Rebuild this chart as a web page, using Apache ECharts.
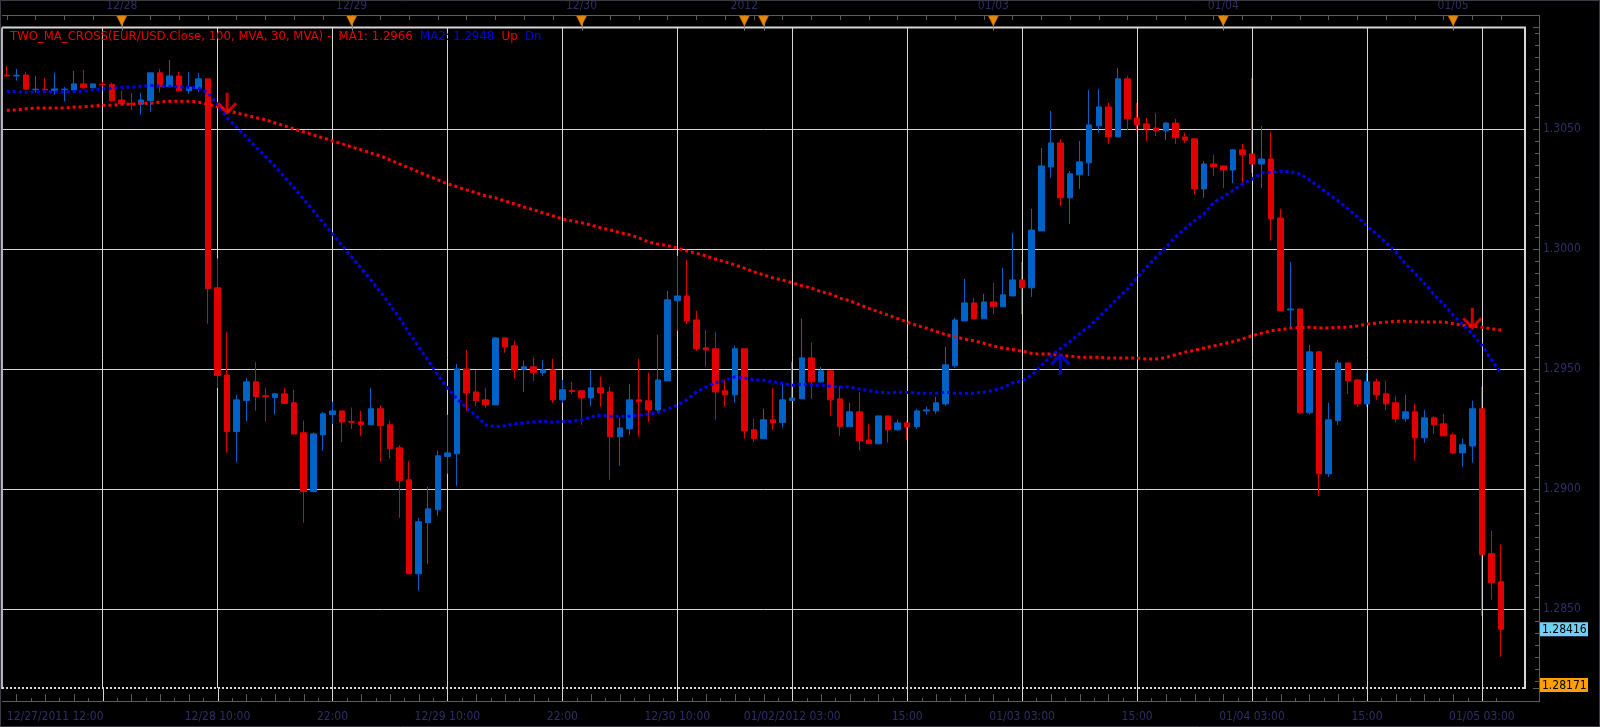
<!DOCTYPE html>
<html>
<head>
<meta charset="UTF-8">
<script src="https://cdn.jsdelivr.net/npm/echarts@6/dist/echarts.min.js"></script>
<style>
    html, body { margin: 0; padding: 0; background: #000; }
    #main { width: 1600px; height: 727px; }
</style>
</head>
<body>
<div id="main"></div>
<script>
    // hourly candles, two sessions (weekend / new year gap in between)
    function hourly(y, m, d, h, n) {
        var out = [];
        function p(v) { return v < 10 ? '0' + v : '' + v; }
        for (var k = 0; k < n; k++) {
            var t = new Date(Date.UTC(y, m - 1, d, h + k));
            out.push(p(t.getUTCMonth() + 1) + '/' + p(t.getUTCDate()) + '/' + t.getUTCFullYear() + ' ' + p(t.getUTCHours()) + ':00');
        }
        return out;
    }
    var categories = hourly(2011, 12, 27, 12, 77).concat(hourly(2012, 1, 1, 22, 80));
    var padCategories = ['', ''];   // empty space at right edge of plot

    var open = [
        1.30725,1.30722,1.30726,1.30665,1.30667,1.30661,1.30665,1.30664,1.30689,1.30673,
        1.30687,1.30686,1.30622,1.30607,1.30604,1.30619,1.30735,1.30678,1.30722,1.30661,
        1.30669,1.30710,1.29839,1.29476,1.29240,1.29369,1.29447,1.29389,1.29382,1.29397,
        1.29360,1.29235,1.28990,1.29226,1.29311,1.29326,1.29282,1.29280,1.29268,1.29335,
        1.29268,1.29172,1.29039,1.28647,1.28860,1.28914,1.29136,1.29147,1.29501,1.29405,
        1.29372,1.29351,1.29630,1.29597,1.29500,1.29510,1.29485,1.29497,1.29372,1.29412,
        1.29410,1.29380,1.29422,1.29405,1.29218,1.29251,1.29372,1.29368,1.29330,1.29451,
        1.29785,1.29805,1.29705,1.29589,1.29585,1.29410,1.29393,1.29585,1.29247,1.29210,
        1.29289,1.29278,1.29369,1.29376,1.29547,1.29447,1.29493,1.29376,1.29260,1.29322,
        1.29205,1.29189,1.29305,1.29247,1.29276,1.29260,1.29326,1.29326,1.29355,1.29514,
        1.29701,1.29776,1.29710,1.29780,1.29760,1.29805,1.29872,1.29839,1.30076,1.30343,
        1.30443,1.30214,1.30310,1.30360,1.30514,1.30593,1.30468,1.30710,1.30547,1.30522,
        1.30505,1.30493,1.30526,1.30468,1.30460,1.30251,1.30355,1.30347,1.30330,1.30414,
        1.30397,1.30355,1.30376,1.30130,1.29747,1.29751,1.29318,1.29572,1.29064,1.29285,
        1.29526,1.29455,1.29355,1.29447,1.29397,1.29360,1.29293,1.29322,1.29214,1.29297,
        1.29272,1.29226,1.29151,1.29180,1.29335,1.28731,1.28614
    ];
    var close = [
        1.30722,1.30725,1.30667,1.30667,1.30664,1.30668,1.30667,1.30689,1.30673,1.30689,
        1.30685,1.30619,1.30607,1.30604,1.30622,1.30735,1.30679,1.30722,1.30660,1.30676,
        1.30710,1.29836,1.29473,1.29240,1.29372,1.29447,1.29386,1.29385,1.29397,1.29357,
        1.29230,1.28990,1.29230,1.29314,1.29326,1.29280,1.29279,1.29268,1.29335,1.29264,
        1.29168,1.29035,1.28647,1.28864,1.28918,1.29139,1.29151,1.29501,1.29401,1.29368,
        1.29351,1.29630,1.29593,1.29497,1.29510,1.29485,1.29497,1.29372,1.29414,1.29407,
        1.29380,1.29422,1.29401,1.29218,1.29255,1.29372,1.29364,1.29330,1.29455,1.29789,
        1.29805,1.29701,1.29585,1.29580,1.29405,1.29393,1.29585,1.29243,1.29210,1.29289,
        1.29276,1.29372,1.29380,1.29547,1.29447,1.29493,1.29372,1.29260,1.29322,1.29201,
        1.29189,1.29305,1.29247,1.29276,1.29260,1.29326,1.29330,1.29360,1.29518,1.29705,
        1.29776,1.29710,1.29780,1.29760,1.29810,1.29872,1.29839,1.30080,1.30347,1.30443,
        1.30214,1.30314,1.30364,1.30518,1.30593,1.30468,1.30710,1.30543,1.30518,1.30501,
        1.30493,1.30526,1.30464,1.30455,1.30251,1.30355,1.30343,1.30330,1.30414,1.30393,
        1.30355,1.30376,1.30126,1.29743,1.29751,1.29318,1.29572,1.29064,1.29289,1.29526,
        1.29451,1.29355,1.29447,1.29393,1.29355,1.29293,1.29322,1.29214,1.29297,1.29268,
        1.29222,1.29151,1.29185,1.29335,1.28726,1.28610,1.28416
    ];
    var low = [
        1.30719,1.30703,1.30664,1.30653,1.30658,1.30644,1.30615,1.30661,1.30669,1.30671,
        1.30678,1.30615,1.30604,1.30580,1.30561,1.30572,1.30653,1.30675,1.30660,1.30648,
        1.30655,1.29689,1.29422,1.29152,1.29111,1.29282,1.29327,1.29282,1.29310,1.29357,
        1.29226,1.28860,1.28986,1.29160,1.29272,1.29197,1.29251,1.29222,1.29268,1.29114,
        1.29126,1.28880,1.28647,1.28576,1.28689,1.28889,1.29064,1.29014,1.29326,1.29347,
        1.29339,1.29351,1.29568,1.29460,1.29405,1.29451,1.29472,1.29360,1.29360,1.29397,
        1.29268,1.29347,1.29343,1.29039,1.29097,1.29226,1.29218,1.29280,1.29318,1.29451,
        1.29660,1.29689,1.29576,1.29510,1.29289,1.29343,1.29360,1.29210,1.29197,1.29210,
        1.29247,1.29257,1.29369,1.29376,1.29376,1.29443,1.29305,1.29222,1.29260,1.29160,
        1.29189,1.29189,1.29193,1.29243,1.29205,1.29251,1.29310,1.29314,1.29347,1.29506,
        1.29701,1.29710,1.29710,1.29730,1.29760,1.29805,1.29730,1.29801,1.30076,1.30297,
        1.30180,1.30105,1.30251,1.30305,1.30485,1.30439,1.30468,1.30497,1.30493,1.30451,
        1.30472,1.30455,1.30439,1.30443,1.30230,1.30214,1.30305,1.30255,1.30276,1.30268,
        1.30318,1.30255,1.30035,1.29743,1.29668,1.29314,1.29310,1.28972,1.29051,1.29268,
        1.29397,1.29343,1.29343,1.29372,1.29330,1.29280,1.29280,1.29118,1.29193,1.29230,
        1.29222,1.29147,1.29093,1.29110,1.28472,1.28539,1.28301
    ];
    var high = [
        1.30764,1.30751,1.30740,1.30722,1.30714,1.30735,1.30676,1.30743,1.30747,1.30689,
        1.30697,1.30694,1.30660,1.30651,1.30651,1.30735,1.30751,1.30789,1.30739,1.30739,
        1.30735,1.30710,1.29961,1.29655,1.29393,1.29464,1.29530,1.29422,1.29400,1.29422,
        1.29414,1.29285,1.29237,1.29322,1.29364,1.29326,1.29340,1.29326,1.29422,1.29350,
        1.29285,1.29183,1.29117,1.28880,1.29010,1.29160,1.29310,1.29522,1.29580,1.29497,
        1.29422,1.29634,1.29630,1.29618,1.29535,1.29551,1.29539,1.29543,1.29455,1.29447,
        1.29410,1.29497,1.29468,1.29426,1.29297,1.29439,1.29543,1.29485,1.29643,1.29826,
        1.29972,1.29955,1.29743,1.29664,1.29655,1.29455,1.29597,1.29585,1.29293,1.29335,
        1.29422,1.29442,1.29530,1.29710,1.29610,1.29510,1.29493,1.29430,1.29360,1.29405,
        1.29272,1.29305,1.29305,1.29289,1.29285,1.29335,1.29343,1.29385,1.29593,1.29714,
        1.29876,1.29797,1.29814,1.29860,1.29922,1.30068,1.29947,1.30168,1.30422,1.30576,
        1.30459,1.30326,1.30451,1.30664,1.30668,1.30610,1.30755,1.30722,1.30610,1.30547,
        1.30568,1.30530,1.30543,1.30485,1.30464,1.30368,1.30393,1.30347,1.30418,1.30439,
        1.30714,1.30514,1.30489,1.30168,1.29947,1.29751,1.29601,1.29576,1.29360,1.29539,
        1.29526,1.29460,1.29485,1.29460,1.29451,1.29389,1.29393,1.29355,1.29330,1.29305,
        1.29314,1.29235,1.29210,1.29368,1.29426,1.28826,1.28768
    ];
    // MA1 = 100 period, MA2 = 30 period
    var ma1 = [
        1.30579,1.30580,1.30585,1.30588,1.30588,1.30588,1.30588,1.30592,1.30593,1.30597,
        1.30600,1.30600,1.30604,1.30604,1.30608,1.30608,1.30613,1.30617,1.30617,1.30617,
        1.30613,1.30604,1.30594,1.30578,1.30568,1.30558,1.30548,1.30540,1.30526,1.30514,
        1.30501,1.30489,1.30476,1.30464,1.30451,1.30439,1.30426,1.30414,1.30401,1.30389,
        1.30372,1.30355,1.30339,1.30322,1.30305,1.30289,1.30272,1.30260,1.30247,1.30235,
        1.30222,1.30214,1.30201,1.30189,1.30176,1.30164,1.30151,1.30139,1.30126,1.30118,
        1.30110,1.30101,1.30089,1.30080,1.30069,1.30060,1.30047,1.30030,1.30021,1.30014,
        1.30005,1.29992,1.29983,1.29972,1.29958,1.29947,1.29935,1.29921,1.29905,1.29893,
        1.29880,1.29871,1.29860,1.29848,1.29838,1.29823,1.29813,1.29796,1.29785,1.29769,
        1.29753,1.29739,1.29725,1.29711,1.29696,1.29682,1.29671,1.29658,1.29644,1.29635,
        1.29625,1.29618,1.29608,1.29596,1.29588,1.29582,1.29575,1.29565,1.29563,1.29563,
        1.29558,1.29554,1.29550,1.29550,1.29550,1.29546,1.29546,1.29546,1.29546,1.29542,
        1.29542,1.29548,1.29560,1.29571,1.29578,1.29588,1.29597,1.29605,1.29614,1.29626,
        1.29639,1.29650,1.29660,1.29665,1.29671,1.29673,1.29675,1.29671,1.29671,1.29675,
        1.29675,1.29680,1.29688,1.29692,1.29696,1.29700,1.29700,1.29696,1.29696,1.29696,
        1.29696,1.29690,1.29683,1.29678,1.29675,1.29668,1.29663
    ];
    var ma2 = [
        1.30658,1.30657,1.30654,1.30655,1.30657,1.30655,1.30655,1.30657,1.30658,1.30664,
        1.30668,1.30671,1.30675,1.30675,1.30679,1.30682,1.30679,1.30679,1.30676,1.30675,
        1.30672,1.30651,1.30605,1.30547,1.30508,1.30468,1.30426,1.30386,1.30345,1.30301,
        1.30255,1.30208,1.30160,1.30112,1.30064,1.30016,1.29968,1.29920,1.29872,1.29822,
        1.29768,1.29714,1.29651,1.29593,1.29535,1.29476,1.29422,1.29376,1.29339,1.29305,
        1.29268,1.29260,1.29264,1.29272,1.29276,1.29280,1.29283,1.29279,1.29282,1.29283,
        1.29288,1.29301,1.29308,1.29304,1.29304,1.29304,1.29308,1.29313,1.29318,1.29333,
        1.29350,1.29372,1.29405,1.29425,1.29444,1.29453,1.29468,1.29463,1.29455,1.29454,
        1.29448,1.29440,1.29433,1.29438,1.29433,1.29433,1.29429,1.29426,1.29425,1.29417,
        1.29410,1.29404,1.29401,1.29404,1.29403,1.29400,1.29400,1.29400,1.29404,1.29400,
        1.29400,1.29400,1.29404,1.29411,1.29423,1.29443,1.29450,1.29475,1.29514,1.29555,
        1.29586,1.29615,1.29648,1.29678,1.29717,1.29755,1.29796,1.29833,1.29882,1.29925,
        1.29968,1.30007,1.30050,1.30086,1.30118,1.30148,1.30194,1.30219,1.30244,1.30272,
        1.30292,1.30317,1.30321,1.30325,1.30323,1.30313,1.30289,1.30260,1.30230,1.30201,
        1.30168,1.30135,1.30097,1.30064,1.30026,1.29990,1.29939,1.29901,1.29858,1.29810,
        1.29772,1.29725,1.29685,1.29646,1.29600,1.29539,1.29483
    ];

    // cross signals: [candle index, price at arrow tip]
    var crossDown = [[23, 1.30560], [153, 1.29664]];
    var crossUp = [[110, 1.29568]];

    var bottomTickIdx = [0, 22, 34, 46, 58, 70, 82, 94, 106, 118, 130, 142, 154];
    var bottomTickText = ['12/27/2011 12:00', '12/28 10:00', '22:00', '12/29 10:00', '22:00', '12/30 10:00',
        '01/02/2012 03:00', '15:00', '01/03 03:00', '15:00', '01/04 03:00', '15:00', '01/05 03:00'];
    var topTickIdx = [12, 36, 60, 77, 103, 127, 151];
    var topTickText = ['12/28', '12/29', '12/30', '2012', '01/03', '01/04', '01/05'];
    var dayMarkIdx = [12, 36, 60, 77, 79, 103, 127, 151];

    var yMin = 1.28171, yMax = 1.30924;
    var lastPrice = 1.28416, lowPrice = 1.28171;

    var FONT = "'DejaVu Sans Condensed', 'Liberation Sans', sans-serif";
    var AXIS_TXT = '#2e2e66';
    var GRID_CLR = '#d6d6d6';
    var FRAME_CLR = '#5c5c5c';
    var UP_CLR = '#0062c4', DN_CLR = '#e00000';

    var candleData = [];
    for (var i = 0; i < open.length; i++) {
        candleData.push([open[i], close[i], low[i], high[i]]);
    }

    var chart = echarts.init(document.getElementById('main'));
    var legendText = '{r|TWO_MA_CROSS(EUR/USD.Close, 100, MVA, 30, MVA) -  MA1: ' + ma1[ma1.length - 1].toFixed(4) +
        '}  {b|MA2: ' + ma2[ma2.length - 1].toFixed(4) + '}  {r|Up}  {b|Dn}';

    chart.setOption({
        backgroundColor: '#000',
        animation: false,
        title: {
            text: legendText, left: 10, top: 30, padding: 0,
            textStyle: {
                fontSize: 13, fontWeight: 'normal', fontFamily: FONT, color: '#e00000',
                rich: {
                    r: { color: '#f00000', fontSize: 13, fontFamily: FONT },
                    b: { color: '#0000f0', fontSize: 13, fontFamily: FONT }
                }
            }
        },
        grid: { left: 2, top: 27.5, width: 1523, height: 660.5, containLabel: false, outerBoundsMode: 'none' },
        xAxis: [{
            type: 'category', data: categories.concat(padCategories), boundaryGap: true,
            position: 'bottom', offset: 13,
            axisLine: { show: false }, axisTick: { show: false },
            axisLabel: {
                color: AXIS_TXT, fontSize: 12, fontFamily: FONT, margin: 10, alignMinLabel: 'left',
                interval: function (idx) { return bottomTickIdx.indexOf(idx) >= 0; },
                formatter: function (v, idx) { return bottomTickText[bottomTickIdx.indexOf(idx)]; }
            },
            splitLine: {
                show: true, alignWithLabel: true,
                interval: function (idx) { return idx >= 10 && idx < open.length && (idx - 10) % 12 === 0; },
                lineStyle: { color: GRID_CLR, width: 1 }
            }
        }, {
            type: 'category', data: categories.concat(padCategories), boundaryGap: true,
            position: 'top', offset: 12.5,
            axisLine: { show: false },
            axisTick: { show: true, interval: 2, alignWithLabel: true, inside: true, length: 5, lineStyle: { color: FRAME_CLR } },
            axisLabel: {
                color: AXIS_TXT, fontSize: 12, fontFamily: FONT, margin: 3,
                interval: function (idx) { return topTickIdx.indexOf(idx) >= 0; },
                formatter: function (v, idx) { return topTickText[topTickIdx.indexOf(idx)]; }
            },
            splitLine: { show: false }
        }],
        yAxis: {
            type: 'value', position: 'right', offset: 14, min: yMin, max: yMax, splitNumber: 5,
            axisLine: { show: false },
            axisTick: { show: true, inside: true, length: 6, lineStyle: { color: FRAME_CLR } },
            minorTick: { show: true, splitNumber: 10, length: 4, lineStyle: { color: FRAME_CLR } },
            axisLabel: {
                color: AXIS_TXT, fontSize: 12, fontFamily: FONT, margin: 4,
                showMinLabel: false, showMaxLabel: false,
                formatter: function (v) { return v.toFixed(4); }
            },
            splitLine: { show: true, showMinLine: false, showMaxLine: false, lineStyle: { color: GRID_CLR, width: 1 } }
        },
        series: [{
            name: 'EUR/USD', type: 'candlestick', data: candleData, barWidth: 6,
            itemStyle: { color: UP_CLR, color0: DN_CLR, borderColor: UP_CLR, borderColor0: DN_CLR, borderWidth: 1 }
        }, {
            name: 'MA1', type: 'line', data: ma1, showSymbol: false, z: 4,
            lineStyle: { color: '#ff0000', width: 3, type: [3, 3] }
        }, {
            name: 'MA2', type: 'line', data: ma2, showSymbol: false, z: 4,
            lineStyle: { color: '#0000ff', width: 3, type: [3, 3] }
        }, {
            name: 'Dn', type: 'scatter', data: crossDown, z: 6,
            symbol: 'path://M8.5,0 L11.5,0 L11.5,16 L18,9.5 L20,11.5 L10,22 L0,11.5 L2,9.5 L8.5,16 Z',
            symbolSize: [20, 22], symbolOffset: [0, -11], itemStyle: { color: '#ff0000' }
        }, {
            name: 'Up', type: 'scatter', data: crossUp, z: 6,
            symbol: 'path://M8.5,22 L11.5,22 L11.5,6 L18,12.5 L20,10.5 L10,0 L0,10.5 L2,12.5 L8.5,6 Z',
            symbolSize: [20, 22], symbolOffset: [0, 11], itemStyle: { color: '#0000ff' }
        }]
    });

    // frame, day markers, bottom ticks and price tags, placed through the axes
    var gLeft = 2, gRight = 1525, gTop = 27.5, gBottom = 688, axX = 1539, topAx = 15, botAx = 701;
    function px(i) { return chart.convertToPixel({ xAxisIndex: 0 }, i); }
    function line(x1, y1, x2, y2, color, w, dash) {
        return { type: 'line', silent: true, z: 100,
            shape: { x1: x1, y1: y1, x2: x2, y2: y2 },
            style: { stroke: color, lineWidth: w || 1, lineDash: dash || null } };
    }
    var g = [];
    g.push({ type: 'rect', silent: true, z: 99, shape: { x: 0.5, y: 0.5, width: 1599, height: 726 },
        style: { fill: null, stroke: '#3c3c44', lineWidth: 1 } });
    g.push(line(gLeft, topAx + 0.5, axX, topAx + 0.5, FRAME_CLR));
    g.push(line(gLeft, botAx + 0.5, axX, botAx + 0.5, FRAME_CLR));
    g.push(line(axX + 0.5, topAx, axX + 0.5, botAx + 1, FRAME_CLR));
    g.push(line(gLeft, gTop, gRight + 1, gTop, '#d8d8d8', 2));
    g.push(line(gRight, gTop, gRight, gBottom + 1, '#d8d8d8', 2));
    g.push(line(gLeft, gTop, gLeft, gBottom + 1, '#b4b4bc', 2));
    g.push(line(gLeft, gBottom, gRight, gBottom, '#d8d8d8', 2, [2, 2]));

    var band = px(1) - px(0);
    for (var k = 0; k < open.length; k++) {
        var x = Math.round(px(k)) + 0.5;
        if (k >= 10 && (k - 10) % 12 === 0) {
            g.push(line(x, gBottom, x, botAx, GRID_CLR));
        } else if (k % 3 === 1) {
            g.push(line(x, botAx - 7, x, botAx, FRAME_CLR));
        }
        if (k % 3 === 2) {
            var xh = Math.round(px(k) + band / 2) + 0.5;
            g.push(line(xh, botAx - 3, xh, botAx, FRAME_CLR));
        }
    }
    dayMarkIdx.forEach(function (idx) {
        var x = px(idx);
        g.push(line(Math.round(x) + 0.5, topAx, Math.round(x) + 0.5, gTop + 3, '#8a8a8a'));
        g.push({ type: 'polygon', silent: true, z: 101,
            shape: { points: [[x - 5, topAx + 1], [x + 5, topAx + 1], [x, topAx + 11]] },
            style: { fill: '#e8890c', stroke: '#b86a00', lineWidth: 0.5 } });
    });
    function tag(value, bg, dy) {
        var y = chart.convertToPixel({ yAxisIndex: 0 }, value) + dy;
        return { type: 'group', x: axX + 1, y: y - 7, z: 102, children: [
            { type: 'rect', shape: { x: 0, y: 0, width: 48, height: 14 }, style: { fill: bg } },
            { type: 'text', x: 2, y: 7.5, style: { text: value.toFixed(5), fill: '#000',
                font: '12px ' + FONT, verticalAlign: 'middle' } }
        ] };
    }
    g.push(tag(lastPrice, '#6fd0f6', 0));
    g.push(tag(lowPrice, '#ffa000', -3));
    chart.setOption({ graphic: g });
</script>
</body>
</html>
